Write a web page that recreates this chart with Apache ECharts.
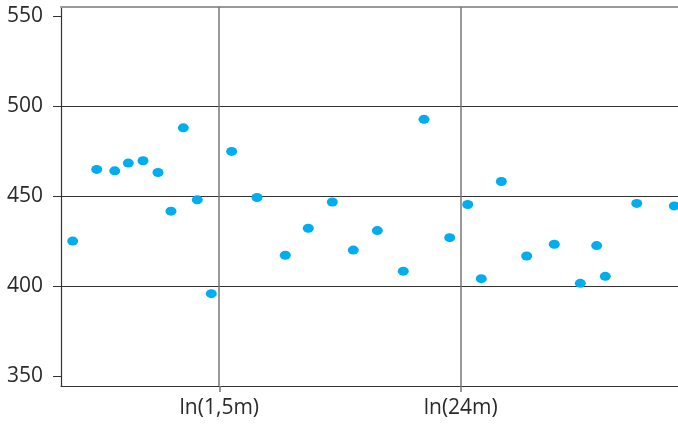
<!DOCTYPE html>
<html><head><meta charset="utf-8">
<script src="https://cdn.jsdelivr.net/npm/echarts@6/dist/echarts.min.js"></script>
<style>html,body{margin:0;padding:0;background:#fff}#c{width:678px;height:424px}</style>
</head><body><div id="c"></div>
<script>
// x values are natural logs of the quantity on the x axis
const xValues = [12.537,12.813,13.020,13.176,13.345,13.517,13.666,13.808,13.968,14.129,
  14.363,14.654,14.979,15.243,15.519,15.760,16.036,16.334,16.572,16.867,
  17.074,17.230,17.460,17.751,18.068,18.367,18.555,18.654,19.015,19.447];
const yValues = [425.0,464.8,464.0,468.3,469.6,463.1,441.6,487.9,447.9,395.8,
  474.8,449.2,417.1,432.1,446.7,420.0,430.8,408.3,492.6,426.9,
  445.3,404.1,458.1,416.7,423.2,401.5,422.5,405.4,445.9,444.5];
const xTickValues = [Math.log(1.5e6), Math.log(24e6)];
const xTickLabels = ['ln(1,5m)', 'ln(24m)'];
const yTickValues = [350, 400, 450, 500, 550];
const yGridValues = [400, 450, 500];
const xMin = 12.403, xMax = 19.489, yMin = 344.5, yMax = 555;

const chart = echarts.init(document.getElementById('c'));
const font = 'Open Sans, DejaVu Sans, sans-serif';
chart.setOption({
  animation: false,
  grid: { left: 61, right: 0, top: 7, bottom: 38 },
  xAxis: [{
    type: 'value', min: xMin, max: xMax,
    axisLine: { show: true, lineStyle: { color: '#333', width: 1.2 } },
    axisTick: { show: true, customValues: xTickValues, length: 6, lineStyle: { color: '#777', width: 1.5 } },
    axisLabel: { show: true, customValues: xTickValues, margin: 12, fontSize: 21, color: '#2a2a2a', fontFamily: font,
      formatter: function (v) { const i = xTickValues.findIndex(t => Math.abs(t - v) < 1e-6); return i >= 0 ? xTickLabels[i] : ''; } },
    splitLine: { show: false }
  }, {
    type: 'value', position: 'top', min: xMin, max: xMax,
    axisLine: { show: true, onZero: false, lineStyle: { color: '#999', width: 2 } },
    axisTick: { show: false }, axisLabel: { show: false }, splitLine: { show: false }
  }],
  yAxis: {
    type: 'value', min: yMin, max: yMax,
    axisLine: { show: true, lineStyle: { color: '#333', width: 1.2 } },
    axisTick: { show: true, customValues: yTickValues, length: 8, lineStyle: { color: '#333' } },
    axisLabel: { show: true, customValues: yTickValues, margin: 18, fontSize: 21, color: '#2a2a2a', fontFamily: font },
    splitLine: { show: false }
  },
  series: [{
    type: 'scatter',
    xAxisIndex: 0,
    data: xValues.map((x, i) => [x, yValues[i]]),
    symbol: 'circle', symbolSize: [11, 9],
    itemStyle: { color: '#00AEEF', opacity: 1 },
    clip: false,
    z: 5,
    markLine: {
      silent: true, symbol: 'none', label: { show: false }, animation: false,
      data: [
        ...yGridValues.map(v => ({ yAxis: v, lineStyle: { color: '#333', width: 1.2, type: 'solid' } })),
        ...xTickValues.map(v => ({ xAxis: v, lineStyle: { color: '#777', width: 1.5, type: 'solid' } }))
      ]
    }
  }]
});
</script></body></html>
